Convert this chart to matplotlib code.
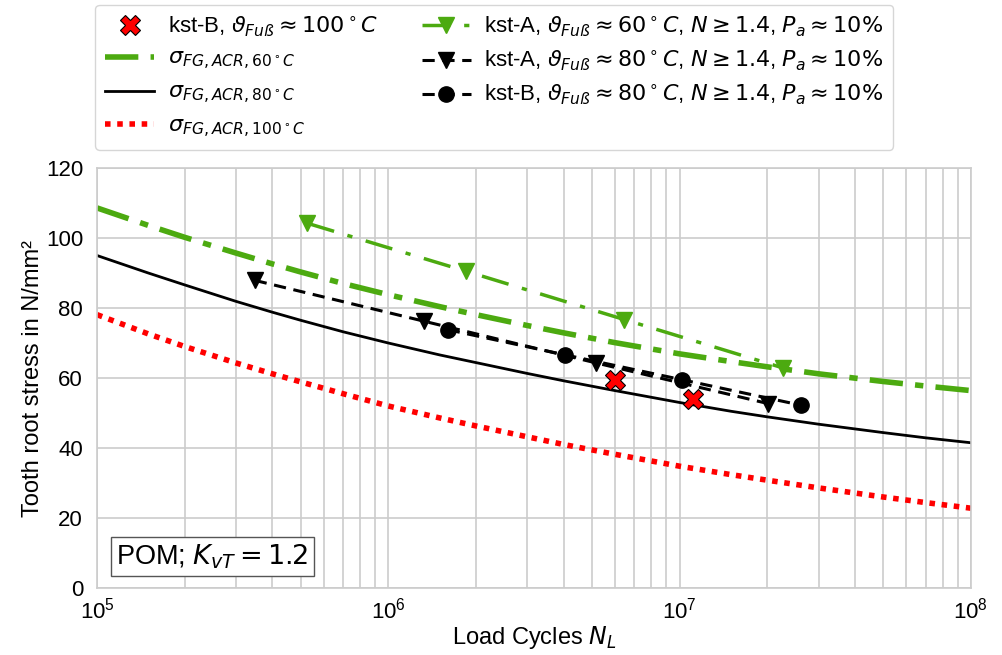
import matplotlib
matplotlib.use("Agg")
import matplotlib.pyplot as plt

plt.rcParams['font.family'] = ['Liberation Sans', 'DejaVu Sans']
plt.rcParams['mathtext.fontset'] = 'dejavusans'

# Fitted curves
curve_N = [1e5, 1.5e5, 2e5, 3e5, 4e5, 5e5, 7e5,
           1e6, 1.5e6, 2e6, 3e6, 4e6, 6e6,
           1e7, 1.5e7, 2e7, 3e7, 5e7, 7e7, 1e8]
sigma_60 = [108.6, 103.6, 100.2, 95.7, 92.6, 90.3, 87.0,
            83.8, 80.4, 78.1, 75.0, 72.9, 70.1,
            66.9, 64.7, 63.2, 61.2, 59.0, 57.7, 56.4]
sigma_80 = [95.0, 90.0, 86.6, 81.9, 78.8, 76.5, 73.2,
            70.0, 66.6, 64.4, 61.3, 59.2, 56.4,
            53.0, 50.5, 48.9, 46.8, 44.4, 42.9, 41.5]
sigma_100 = [78.1, 72.6, 69.0, 64.3, 61.2, 58.9, 55.5,
             52.0, 48.6, 46.3, 43.2, 41.0, 38.2,
             34.8, 32.4, 30.8, 28.6, 26.0, 24.4, 22.8]

# Measurements
kstB100_N = [6.02e6, 1.11e7]
kstB100_s = [59.3, 54.1]
kstA60_N = [5.28e5, 1.85e6, 6.46e6, 2.26e7]
kstA60_s = [104.2, 90.5, 76.7, 62.9]
kstA80_N = [3.48e5, 1.33e6, 5.17e6, 2.01e7]
kstA80_s = [87.9, 76.2, 64.3, 52.7]
kstB80_N = [1.60e6, 4.05e6, 1.02e7, 2.62e7]
kstB80_s = [73.8, 66.6, 59.5, 52.2]

GREEN = '#4CAA10'

fig = plt.figure(figsize=(10.03, 6.55), dpi=100)
ax = fig.add_axes([0.0967, 0.1023, 0.8713, 0.6412])

h_x, = ax.plot(kstB100_N, kstB100_s, linestyle='none', marker='X', markersize=15,
               markerfacecolor='red', markeredgecolor='black', markeredgewidth=0.8, zorder=6,
               label=r'kst-B, $\vartheta_{Fuß} \approx 100^\circ C$')
h60, = ax.plot(curve_N, sigma_60, color=GREEN, linestyle=(0, (6, 2.2, 1.5, 2.2)), linewidth=4,
               label=r'$\sigma_{FG,ACR,60^\circ C}$')
h80, = ax.plot(curve_N, sigma_80, color='black', linestyle='-', linewidth=2,
               label=r'$\sigma_{FG,ACR,80^\circ C}$')
h100, = ax.plot(curve_N, sigma_100, color='red', linestyle=(0, (1, 1.2)), linewidth=4,
                label=r'$\sigma_{FG,ACR,100^\circ C}$')
hA60, = ax.plot(kstA60_N, kstA60_s, color=GREEN, linestyle=(0, (8, 4, 1.5, 4)), linewidth=2.5,
                marker='v', markersize=11, zorder=5,
                label=r'kst-A, $\vartheta_{Fuß} \approx 60^\circ C$, $N \geq 1.4$, $P_a \approx 10\%$')
hA80, = ax.plot(kstA80_N, kstA80_s, color='black', linestyle=(0, (4, 2.5)), linewidth=2.2,
                marker='v', markersize=11, zorder=5,
                label=r'kst-A, $\vartheta_{Fuß} \approx 80^\circ C$, $N \geq 1.4$, $P_a \approx 10\%$')
hB80, = ax.plot(kstB80_N, kstB80_s, color='black', linestyle=(0, (4, 2.5)), linewidth=2.2,
                marker='o', markersize=11, zorder=5,
                label=r'kst-B, $\vartheta_{Fuß} \approx 80^\circ C$, $N \geq 1.4$, $P_a \approx 10\%$')

ax.set_xscale('log')
ax.set_xlim(1e5, 1e8)
ax.set_ylim(0, 120)
ax.set_yticks([0, 20, 40, 60, 80, 100, 120])
ax.grid(True, which='major', color='#cccccc', linewidth=1.2)
ax.grid(True, which='minor', axis='x', color='#cccccc', linewidth=1.2)
ax.set_axisbelow(True)
for s in ax.spines.values():
    s.set_color('#cccccc')
    s.set_linewidth(1.2)
ax.tick_params(which='both', length=0, labelsize=16)
ax.tick_params(axis='y', pad=10)
ax.tick_params(axis='x', pad=7)
ax.set_xlabel(r'Load Cycles $N_L$', fontsize=17, labelpad=0)
ax.set_ylabel('Tooth root stress in N/mm²', fontsize=17, labelpad=1)

ax.text(0.022, 0.075, r'POM; $K_{vT} = 1.2$', transform=ax.transAxes, fontsize=19.5,
        ha='left', va='center',
        bbox=dict(boxstyle='square,pad=0.2', facecolor='white', edgecolor='#555555', linewidth=1))

handles = [h_x, h60, h80, h100, hA60, hA80, hB80]
leg = fig.legend(handles=handles, loc='upper left', bbox_to_anchor=(0.095, 0.993), ncol=2,
                 fontsize=16, frameon=True, fancybox=True, edgecolor='#cccccc',
                 handlelength=2.2, handletextpad=0.6, columnspacing=2.0, labelspacing=0.45,
                 borderpad=0.45, borderaxespad=0)

fig.savefig('out.png', dpi=100)
